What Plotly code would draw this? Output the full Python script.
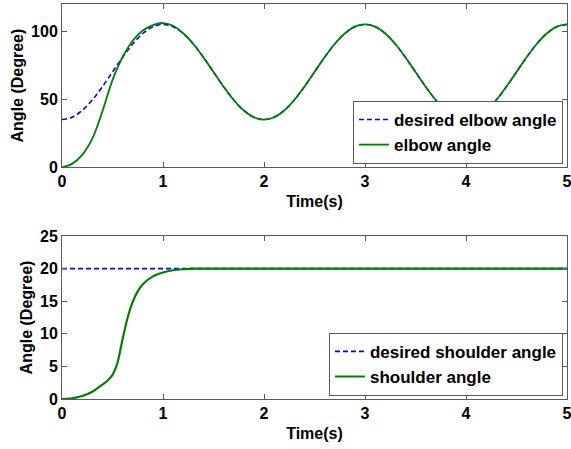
import plotly.graph_objects as go
from plotly.subplots import make_subplots

# ---- data ----
t_elbow = [0.0, 0.1, 0.2, 0.3, 0.4, 0.5, 0.6, 0.7, 0.8, 0.9,
           1.0, 1.1, 1.2, 1.3, 1.4, 1.5, 1.6, 1.7, 1.8, 1.9,
           2.0, 2.1, 2.2, 2.3, 2.4, 2.5, 2.6, 2.7, 2.8, 2.9,
           3.0, 3.1, 3.2, 3.3, 3.4, 3.5, 3.6, 3.7, 3.8, 3.9,
           4.0, 4.1, 4.2, 4.3, 4.4, 4.5, 4.6, 4.7, 4.8, 4.9, 5.0]
desired_elbow = [35, 36.7, 41.7, 49.4, 59.2, 70, 80.8, 90.6, 98.3, 103.3,
                 105, 103.3, 98.3, 90.6, 80.8, 70, 59.2, 49.4, 41.7, 36.7,
                 35, 36.7, 41.7, 49.4, 59.2, 70, 80.8, 90.6, 98.3, 103.3,
                 105, 103.3, 98.3, 90.6, 80.8, 70, 59.2, 49.4, 41.7, 36.7,
                 35, 36.7, 41.7, 49.4, 59.2, 70, 80.8, 90.6, 98.3, 103.3, 105]
elbow_angle = [0, 2.4, 9, 21, 41, 64, 81, 93, 100.5, 104.5,
               106, 104, 98.5, 90.6, 80.8, 70, 59.2, 49.4, 41.7, 36.7,
               35, 36.7, 41.7, 49.4, 59.2, 70, 80.8, 90.6, 98.3, 103.3,
               105, 103.3, 98.3, 90.6, 80.8, 70, 59.2, 49.4, 41.7, 36.7,
               35.6, 37.2, 41.7, 49.4, 59.2, 70, 80.8, 90.6, 98.3, 103.3, 105]

t_desired_shoulder = [0.0, 5.0]
desired_shoulder = [20, 20]
t_shoulder = [0.0, 0.1, 0.2, 0.3, 0.4, 0.45, 0.5, 0.55, 0.6, 0.65, 0.7, 0.75,
              0.8, 0.9, 1.0, 1.1, 1.2, 1.3, 1.5, 2.0, 3.0, 4.0, 5.0]
shoulder_angle = [0, 0.1, 0.45, 1.1, 2.2, 2.8, 3.7, 5.6, 9.2, 12.5, 14.9, 16.5,
                  17.6, 18.8, 19.4, 19.75, 19.9, 20, 20, 20, 20, 20, 20]

x_ticks = [0, 1, 2, 3, 4, 5]
y_ticks_top = [0, 50, 100]
y_ticks_bottom = [0, 5, 10, 15, 20, 25]

BLUE = "#0000ff"
GREEN = "#008000"
AXC = "#5a5a5a"
FONT = "Liberation Sans"

fig = make_subplots(rows=2, cols=1, vertical_spacing=0.0)

fig.add_trace(go.Scatter(x=t_elbow, y=desired_elbow, mode="lines", name="desired elbow angle",
                         line=dict(color=BLUE, width=1.6, dash="5px,3px", shape="spline"),
                         legend="legend"), row=1, col=1)
fig.add_trace(go.Scatter(x=t_elbow, y=elbow_angle, mode="lines", name="elbow angle",
                         line=dict(color=GREEN, width=1.8, shape="spline"),
                         legend="legend"), row=1, col=1)
fig.add_trace(go.Scatter(x=t_desired_shoulder, y=desired_shoulder, mode="lines",
                         name="desired shoulder angle",
                         line=dict(color=BLUE, width=1.6, dash="5px,3px"),
                         legend="legend2"), row=2, col=1)
fig.add_trace(go.Scatter(x=t_shoulder, y=shoulder_angle, mode="lines", name="shoulder angle",
                         line=dict(color=GREEN, width=2.2, shape="spline", smoothing=0.6),
                         legend="legend2"), row=2, col=1)

tickfont = dict(family=FONT, size=16, color="black", weight="bold")
titlefont = dict(family=FONT, size=16, color="black", weight="bold")
legfont = dict(family=FONT, size=17, color="black", weight="bold")

axis_common = dict(showline=True, linecolor=AXC, linewidth=1, mirror="ticks",
                   ticks="inside", ticklen=5, tickcolor=AXC, showgrid=False,
                   zeroline=False, tickfont=tickfont)

fig.update_xaxes(range=[0, 5], tickvals=x_ticks, ticklabeloverflow="allow", **axis_common)
fig.update_xaxes(title=dict(text="Time(s)", font=titlefont, standoff=6), row=1, col=1)
fig.update_xaxes(title=dict(text="Time(s)", font=titlefont, standoff=6), row=2, col=1)
fig.update_yaxes(**axis_common)
fig.update_yaxes(range=[0, 120], tickvals=y_ticks_top,
                 title=dict(text="Angle (Degree)", font=titlefont, standoff=3), row=1, col=1)
fig.update_yaxes(range=[0, 25], tickvals=y_ticks_bottom,
                 title=dict(text="Angle (Degree)", font=titlefont, standoff=3), row=2, col=1)

fig.update_layout(
    width=571, height=449,
    margin=dict(l=62, r=4, t=4, b=50, autoexpand=False),
    paper_bgcolor="white", plot_bgcolor="white",
    xaxis=dict(domain=[0, 1]), xaxis2=dict(domain=[0, 1]),
    yaxis=dict(domain=[0.587, 1.0]), yaxis2=dict(domain=[0.0, 0.4127]),
    legend=dict(x=0.992, y=0.595, xanchor="right", yanchor="bottom",
                bgcolor="white", bordercolor=AXC, borderwidth=1,
                font=legfont, itemwidth=30, tracegroupgap=0),
    legend2=dict(x=0.992, y=0.008, xanchor="right", yanchor="bottom",
                 bgcolor="white", bordercolor=AXC, borderwidth=1,
                 font=legfont, itemwidth=30, tracegroupgap=0),
    showlegend=True,
)

fig.write_html("out.html", config={"displayModeBar": False},
               post_script="document.body.style.margin='0px';")
